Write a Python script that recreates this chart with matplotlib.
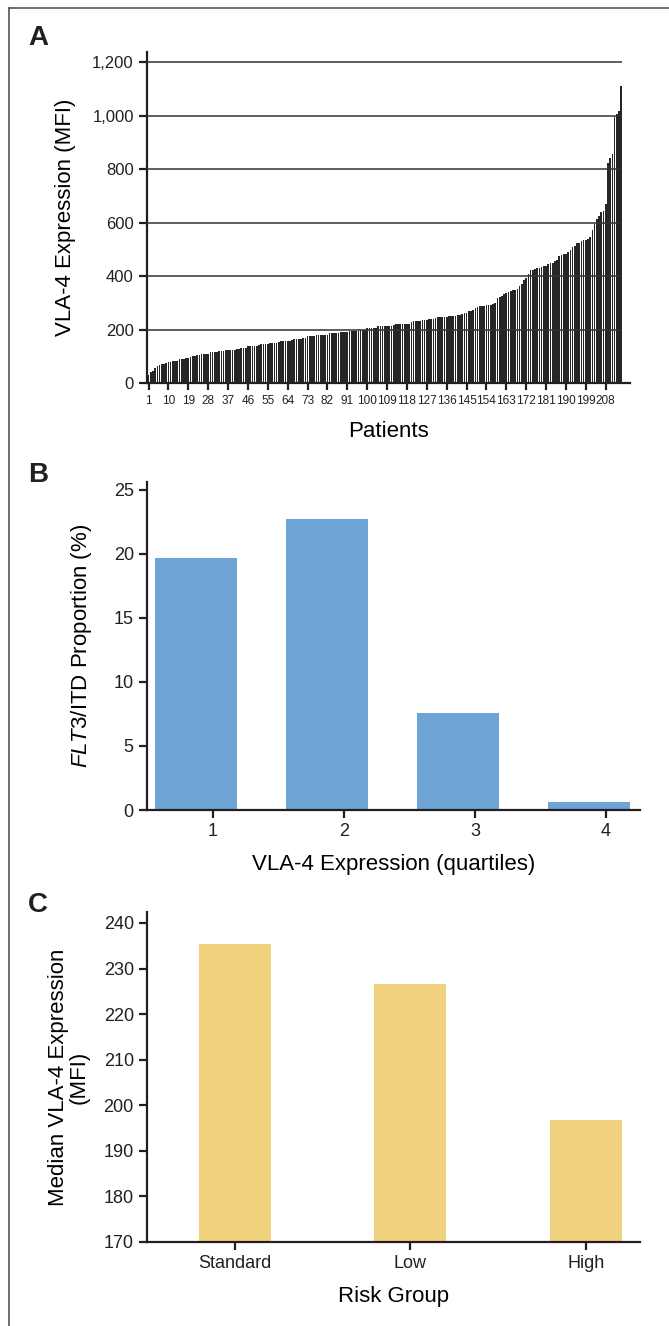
import matplotlib
matplotlib.use("Agg")
import matplotlib.pyplot as plt
from matplotlib.lines import Line2D

# Panel A: VLA-4 expression per patient (sorted)
vla4_mfi = [
    29, 42, 46, 57, 65, 68, 70, 72, 76, 77,
    79, 81, 82, 84, 88, 89, 90, 93, 94, 96,
    100, 102, 104, 106, 107, 108, 108, 110, 115, 116,
    117, 117, 118, 120, 121, 122, 122, 123, 124, 125,
    128, 129, 130, 130, 131, 138, 138, 139, 139, 140,
    143, 144, 145, 145, 146, 149, 150, 150, 151, 152,
    156, 157, 157, 158, 158, 159, 164, 165, 166, 166,
    167, 168, 174, 175, 176, 177, 178, 179, 179, 180,
    180, 181, 186, 187, 187, 188, 188, 189, 189, 190,
    192, 193, 193, 194, 194, 195, 197, 198, 199, 205,
    206, 206, 207, 207, 212, 213, 213, 214, 214, 215,
    215, 216, 219, 220, 220, 221, 221, 222, 222, 230,
    231, 232, 232, 233, 236, 237, 237, 238, 240, 241,
    242, 245, 246, 246, 247, 247, 249, 250, 251, 252,
    253, 256, 258, 260, 262, 268, 270, 272, 280, 284,
    287, 288, 289, 290, 291, 292, 295, 298, 318, 322,
    326, 333, 336, 340, 345, 346, 348, 350, 362, 372,
    385, 392, 406, 421, 423, 428, 429, 430, 432, 436,
    438, 444, 447, 450, 456, 460, 474, 478, 481, 484,
    490, 496, 509, 514, 522, 525, 530, 534, 535, 537,
    545, 571, 596, 612, 623, 640, 645, 671, 824, 842,
    855, 995, 1005, 1016, 1110,
]
a_ticks = list(range(1, 209, 9))
a_yticks = [0, 200, 400, 600, 800, 1000, 1200]
a_yticklabels = ['0', '200', '400', '600', '800', '1,000', '1,200']

# Panel B: FLT3/ITD proportion by VLA-4 quartile
quartiles = [1, 2, 3, 4]
flt3_pct = [19.7, 22.7, 7.6, 0.6]

# Panel C: median VLA-4 by risk group
risk_groups = ['Standard', 'Low', 'High']
median_vla4 = [235.4, 226.5, 196.7]

plt.rcParams['font.family'] = ['Liberation Sans', 'DejaVu Sans']
plt.rcParams['mathtext.fontset'] = 'custom'
plt.rcParams['mathtext.it'] = 'Liberation Sans:italic'
plt.rcParams['mathtext.rm'] = 'Liberation Sans'

DARK = '#231f20'


def style_axes(ax):
    for side in ['top', 'right']:
        ax.spines[side].set_visible(False)
    for side in ['left', 'bottom']:
        ax.spines[side].set_color(DARK)
        ax.spines[side].set_linewidth(1.6)
    ax.tick_params(colors=DARK, width=1.6, length=6, direction='out')


W, H = 669, 1326
fig = plt.figure(figsize=(W / 100, H / 100), dpi=100)

# journal-style frame on left and top
fig.add_artist(Line2D([9 / W, 9 / W], [0, 1 - 8 / H], color='#555555', lw=1.2))
fig.add_artist(Line2D([9 / W, 1], [1 - 8 / H, 1 - 8 / H], color='#555555', lw=1.2))

# ---- Panel A ----
axA = fig.add_axes([147 / W, 1 - 383 / H, 483 / W, 331 / H])
patients = list(range(1, len(vla4_mfi) + 1))
axA.bar(patients, vla4_mfi, width=0.75, color='#262626', linewidth=0, zorder=2)
axA.hlines(a_yticks[1:], 0.5, len(vla4_mfi) + 0.5, color='#333333', lw=1.1, zorder=3)
axA.set_xlim(0.3, 219)
axA.set_ylim(0, 1238)
axA.set_yticks(a_yticks)
axA.set_yticklabels(a_yticklabels, fontsize=12)
axA.set_xticks(a_ticks)
axA.set_xticklabels([str(t) for t in a_ticks], fontsize=8.5)
style_axes(axA)
axA.tick_params(axis='x', length=5, pad=4)
axA.set_xlabel('Patients', fontsize=16, labelpad=10)
axA.set_ylabel('VLA-4 Expression (MFI)', fontsize=16, labelpad=12)

# ---- Panel B ----
axB = fig.add_axes([147 / W, 1 - 810 / H, 493 / W, 328 / H])
axB.bar([q - 0.13 for q in quartiles], flt3_pct, width=0.62, color='#6fa4d7', linewidth=0)
axB.set_xlim(0.496, 4.26)
axB.set_ylim(0, 25.6)
axB.set_yticks([0, 5, 10, 15, 20, 25])
axB.set_xticks(quartiles)
axB.tick_params(labelsize=13)
style_axes(axB)
axB.set_xlabel('VLA-4 Expression (quartiles)', fontsize=16, labelpad=10)
axB.set_ylabel(r'$\it{FLT3}$/ITD Proportion (%)', fontsize=16, labelpad=14)

# ---- Panel C ----
axC = fig.add_axes([147 / W, 1 - 1242 / H, 493 / W, 330 / H])
xc = list(range(len(risk_groups)))
axC.bar(xc, [v - 170 for v in median_vla4], bottom=170, width=0.41,
        color='#f0d27e', linewidth=0)
axC.set_xlim(-0.503, 2.31)
axC.set_ylim(170, 242.4)
axC.set_yticks(list(range(170, 241, 10)))
axC.set_xticks(xc)
axC.set_xticklabels(risk_groups)
axC.tick_params(labelsize=13)
style_axes(axC)
axC.set_xlabel('Risk Group', fontsize=16, labelpad=10)
axC.set_ylabel('Median VLA-4 Expression\n(MFI)', fontsize=16, labelpad=10,
               linespacing=0.95)

# panel letters
for letter, y in [('A', 38), ('B', 475), ('C', 905)]:
    fig.text(28 / W, 1 - y / H, letter, fontsize=20, fontweight='bold',
             va='center', color=DARK)

fig.savefig('out.png', dpi=100)
